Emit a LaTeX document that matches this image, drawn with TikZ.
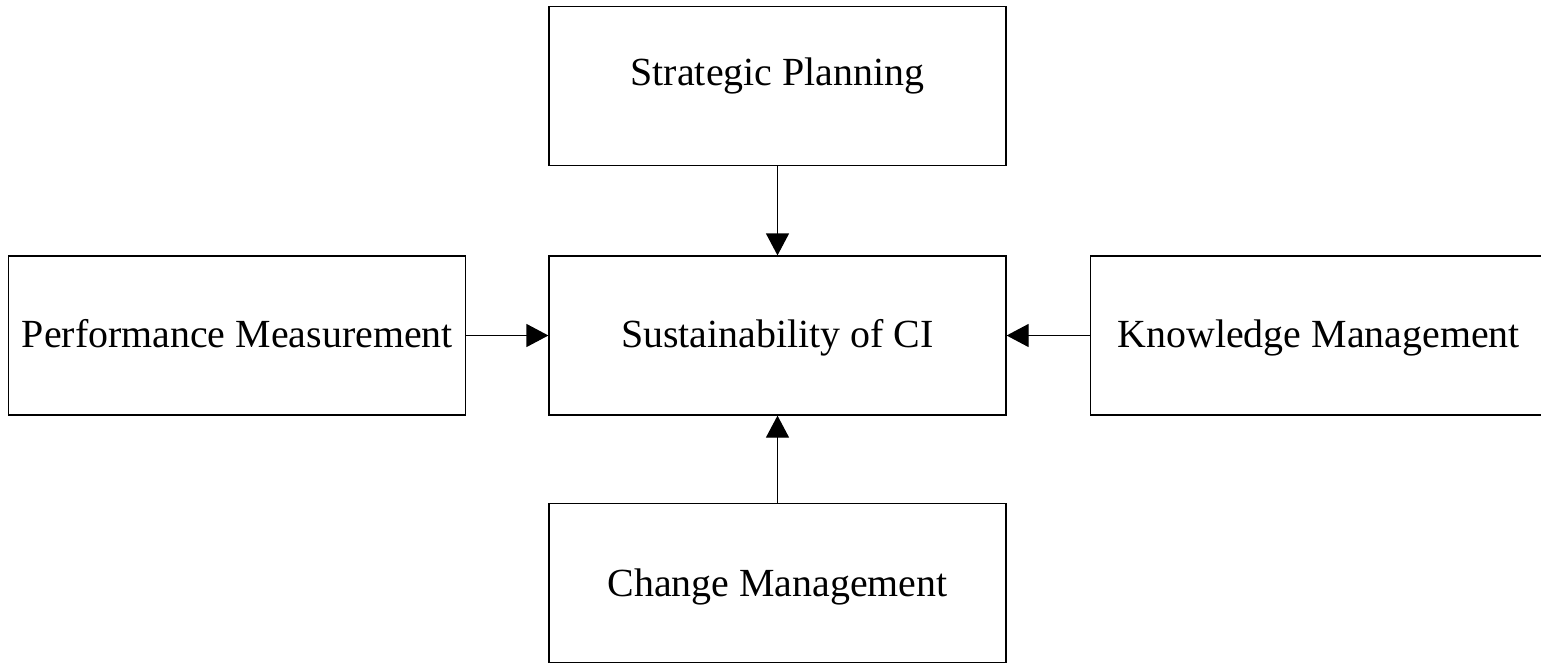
\documentclass[tikz,border=0pt]{standalone}
\usepackage{fontspec}
\setmainfont{Liberation Serif}
\usetikzlibrary{positioning,arrows.meta}

\begin{document}
\begin{tikzpicture}[x=1pt,y=-1pt,
    factor/.style={draw,line width=1.2pt,rectangle,minimum width=457pt,
      minimum height=159pt,inner sep=0pt,text height=27pt,text depth=4pt,
      font=\fontsize{39.9}{48}\selectfont},
    feeds/.style={line width=1.2pt,-{Triangle[length=22pt,width=23pt]}}]
    \useasboundingbox (0,0) rectangle (1541,662);
    \clip (0,0) rectangle (1541,662);
    \node[factor] (sci) at (777.5,335.5) {Sustainability of CI};
    \node[factor,above=89pt of sci,text depth=29pt] (plan) {Strategic Planning};
    \node[factor,below=87pt of sci,text depth=0pt] (change) {Change Management};
    \node[factor,left=82pt of sci] (perf) {Performance Measurement};
    \node[factor,right=83pt of sci] (know) {Knowledge Management};
    \draw[feeds] (plan) -- (sci);
    \draw[feeds] (change) -- (sci);
    \draw[feeds] (perf) -- (sci);
    \draw[feeds] (know) -- (sci);
  \end{tikzpicture}
\end{document}
